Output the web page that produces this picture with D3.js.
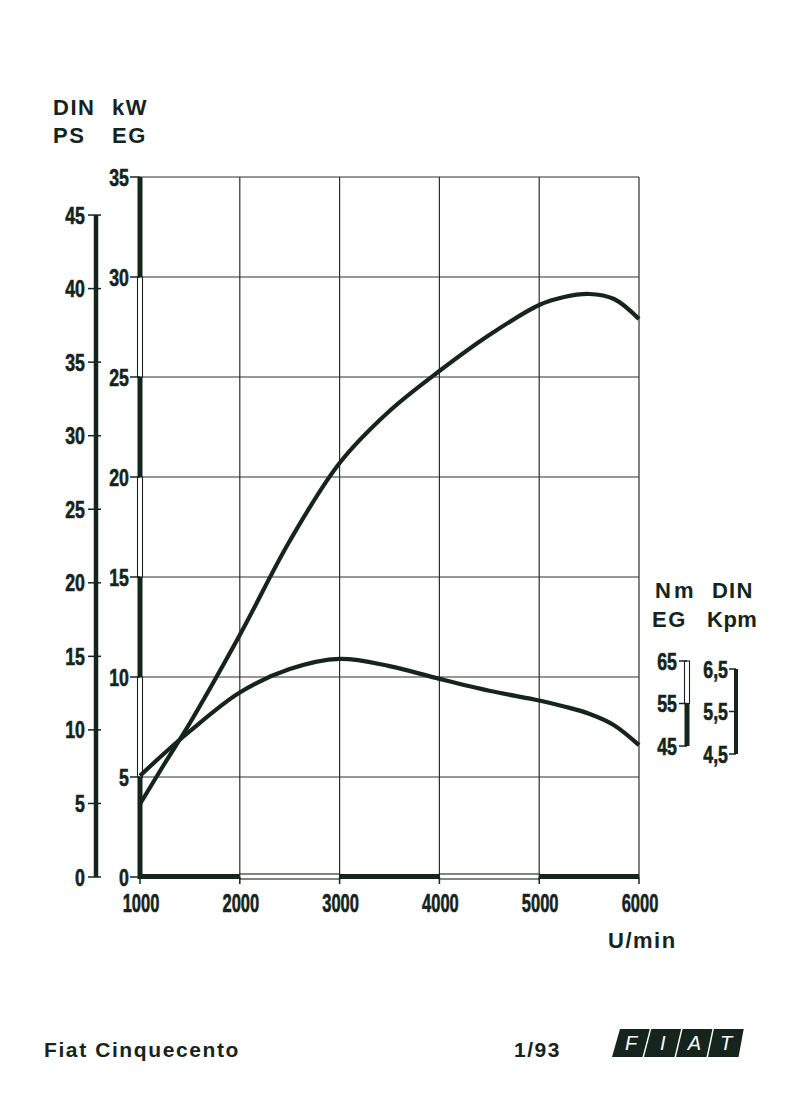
<!DOCTYPE html>
<html><head><meta charset="utf-8">
<script src="https://cdn.jsdelivr.net/npm/d3@7"></script>
<style>body{margin:0;background:#fff}</style>
</head><body>
<svg id="c" width="800" height="1099"></svg>
<script>
// ---- data ----
const rpm      = [1000,1250,1500,2000,2500,3000,3500,4000,4500,5000,5250,5500,5750,6000];
const powerKW  = [3.65,5.7,7.7,12.1,16.8,20.7,23.3,25.3,27.1,28.6,29.0,29.15,28.9,27.9];
const torqueNm = [38.0,43.4,48.5,57.6,63.1,65.5,63.8,60.8,58.0,55.7,54.3,52.6,49.9,45.2];
const rpmTicks = [1000,2000,3000,4000,5000,6000];
const kwTicks  = [0,5,10,15,20,25,30,35];
const psTicks  = [0,5,10,15,20,25,30,35,40,45];
const nmTicks  = [45,55,65];
const kpmTicks = [4.5,5.5,6.5];
const kpmLabels = ["4,5","5,5","6,5"];
const logoLetters = ["F","I","A","T"];
const PS_TO_KW = 0.7355;

const ink = "#15241c";
const svg = d3.select("#c");
svg.append("rect").attr("width",800).attr("height",1099).attr("fill","#fff");

const x = d3.scaleLinear().domain([1000,6000]).range([140,639]);
const y = d3.scaleLinear().domain([0,35]).range([877,177]);
const yPS = v => y(v*PS_TO_KW);
const yNm = d3.scaleLinear().domain([45,65]).range([746,661]);
const yKpm = d3.scaleLinear().domain([4.5,6.5]).range([754,669]);

const NUM_FONT = "'Liberation Sans', Arial, sans-serif";
function num(g, txt, px, py, size, sx, anchor){
  return g.append("text").text(txt)
    .attr("transform",`translate(${px},${py}) scale(${sx},1)`)
    .attr("text-anchor",anchor||"end").attr("dominant-baseline","central")
    .attr("font-family",NUM_FONT).attr("font-weight","bold")
    .attr("font-size",size).attr("fill",ink)
    .attr("stroke",ink).attr("stroke-width",0.6);
}
function label(txt, px, py, size, ls){
  return svg.append("text").text(txt).attr("x",px).attr("y",py)
    .attr("font-family",NUM_FONT).attr("font-weight","bold")
    .attr("font-size",size).attr("letter-spacing",ls||0).attr("fill",ink);
}

// ---- grid ----
const grid = svg.append("g").attr("stroke","#2b302d").attr("stroke-width",1.2);
grid.selectAll("line.h").data(kwTicks.slice(1)).join("line")
  .attr("x1",x(1000)).attr("x2",x(6000)).attr("y1",d=>y(d)).attr("y2",d=>y(d));
grid.selectAll("line.v").data(rpmTicks.slice(1)).join("line")
  .attr("x1",d=>x(d)).attr("x2",d=>x(d)).attr("y1",y(0)).attr("y2",y(35));

// ---- kW axis (alternating solid / hollow bands) ----
const kwAx = svg.append("g");
d3.pairs(kwTicks).forEach(([a,b],i)=>{
  kwAx.append("rect").attr("x",x(1000)-2.5).attr("width",5)
    .attr("y",y(b)).attr("height",y(a)-y(b)+(i===0?2:0))
    .attr("fill",i%2===0?ink:"#fff").attr("stroke",ink).attr("stroke-width",i%2===0?0:1.1);
});
kwTicks.forEach(t=>{
  kwAx.append("line").attr("x1",x(1000)-10).attr("x2",x(1000)).attr("y1",y(t)).attr("y2",y(t))
    .attr("stroke",ink).attr("stroke-width",1.5);
  num(kwAx, t, x(1000)-11, y(t), 24, 0.74);
});

// ---- rpm axis ----
const xAx = svg.append("g");
d3.pairs(rpmTicks).forEach(([a,b],i)=>{
  xAx.append("rect").attr("x",x(a)).attr("width",x(b)-x(a))
    .attr("y",y(0)-3).attr("height",5)
    .attr("fill",i%2===0?ink:"#fff").attr("stroke",ink).attr("stroke-width",i%2===0?0:1.1);
});
rpmTicks.forEach(t=>{
  xAx.append("line").attr("x1",x(t)).attr("x2",x(t)).attr("y1",y(0)).attr("y2",y(0)+7)
    .attr("stroke",ink).attr("stroke-width",1.5);
  num(xAx, t, x(t)+1, 903, 25, 0.66, "middle");
});

// ---- PS axis ----
const psAx = svg.append("g");
psAx.append("line").attr("x1",96).attr("x2",96).attr("y1",yPS(45)).attr("y2",yPS(0))
  .attr("stroke",ink).attr("stroke-width",4.5);
psTicks.forEach(t=>{
  psAx.append("line").attr("x1",88).attr("x2",101).attr("y1",yPS(t)).attr("y2",yPS(t))
    .attr("stroke",ink).attr("stroke-width",1.5);
  num(psAx, t, 85, yPS(t), 24, 0.74);
});

// ---- Nm axis ----
const nmAx = svg.append("g");
d3.pairs(nmTicks).forEach(([a,b],i)=>{
  const solid = i===0;
  nmAx.append("rect").attr("x",684.5).attr("width",5)
    .attr("y",yNm(b)).attr("height",yNm(a)-yNm(b))
    .attr("fill",solid?ink:"#fff").attr("stroke",ink).attr("stroke-width",solid?0:1.1);
});
nmTicks.forEach(t=>{
  nmAx.append("line").attr("x1",679).attr("x2",687).attr("y1",yNm(t)).attr("y2",yNm(t))
    .attr("stroke",ink).attr("stroke-width",1.5);
  num(nmAx, t, 677, yNm(t), 24, 0.74);
});

// ---- Kpm axis ----
const kpAx = svg.append("g");
kpAx.append("line").attr("x1",736).attr("x2",736).attr("y1",yKpm(6.5)).attr("y2",yKpm(4.5))
  .attr("stroke",ink).attr("stroke-width",4);
kpmTicks.forEach((t,i)=>{
  kpAx.append("line").attr("x1",729).attr("x2",736).attr("y1",yKpm(t)).attr("y2",yKpm(t))
    .attr("stroke",ink).attr("stroke-width",1.5);
  num(kpAx, kpmLabels[i], 728, yKpm(t), 24, 0.74);
});

// ---- curves ----
const pts = rpm.map((r,i)=>({r, p:powerKW[i], t:torqueNm[i]}));
const lp = d3.line().x(d=>x(d.r)).y(d=>y(d.p)).curve(d3.curveBasis);
const lt = d3.line().x(d=>x(d.r)).y(d=>yNm(d.t)).curve(d3.curveCatmullRom.alpha(0.5));
svg.append("path").attr("d",d3.line().x(d=>x(d.r)).y(d=>y(d.p)).curve(d3.curveCatmullRom.alpha(0.5))(pts))
  .attr("fill","none").attr("stroke",ink).attr("stroke-width",4.2);
svg.append("path").attr("d",lt(pts)).attr("fill","none").attr("stroke",ink).attr("stroke-width",4.2);

// ---- unit labels ----
label("DIN",53,115,22,1.5); label("kW",112,115,22,1.5);
label("PS",53,143,22,1.5);  label("EG",112,143,22,1.5);
label("N",655,598,22,0); label("m",674,598,22,0); label("DIN",712,598,22,1.2);
label("EG",652,627,22,1.5); label("Kpm",707,627,22,0.5);
label("U/min",608,948,22,1.5);

// ---- footer ----
label("Fiat Cinquecento",44,1057,21,1.6);
label("1/93",514,1057,21,1.5);
const logo = svg.append("g");
logoLetters.forEach((L,i)=>{
  const t0 = 620+i*31.3, t1 = 620+(i+1)*31.3-1.5;
  const b0 = 612+i*32, b1 = 612+(i+1)*32-1.5;
  logo.append("polygon").attr("points",`${t0},1029 ${t1},1029 ${b1},1057 ${b0},1057`).attr("fill",ink);
  logo.append("text").text(L).attr("x",(t0+t1+b0+b1)/4).attr("y",1050)
    .attr("text-anchor","middle").attr("font-family",NUM_FONT).attr("font-style","italic")
    .attr("font-size",20).attr("fill","#fff");
});
</script>
</body></html>
